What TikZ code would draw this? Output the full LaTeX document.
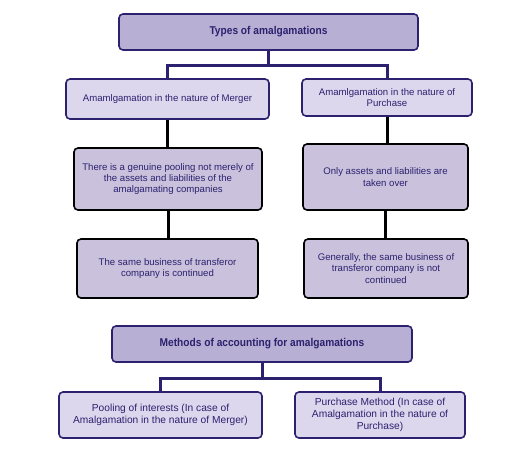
\documentclass[tikz,border=0pt]{standalone}
\usepackage{fontspec}
\setmainfont{Liberation Sans}
\newfontfamily\headfont[FakeStretch=0.9]{Liberation Sans}
\definecolor{navy}{RGB}{43,33,110}
\definecolor{headfill}{RGB}{184,176,212}
\definecolor{lightfill}{RGB}{221,215,237}
\definecolor{midfill}{RGB}{202,193,220}
\begin{document}
\begin{tikzpicture}[
  box/.style={rounded corners=4pt, line width=1.6pt, align=center, inner sep=2pt, text=navy, font=\fontsize{9.6}{11.2}\selectfont},
  headbox/.style={box, draw=navy, fill=headfill, font=\headfont\bfseries\fontsize{11.3}{13}\selectfont},
  lvltwo/.style={box, draw=navy, fill=lightfill},
  lvlthree/.style={box, draw=black, fill=midfill},
  navyline/.style={draw=navy, line width=3pt},
  blackline/.style={draw=black, line width=3pt}
]
\useasboundingbox (0pt,0pt) rectangle (520pt,-448pt);
\fill[white] (0pt,0pt) rectangle (520pt,-448pt);

\node[headbox, minimum width=299pt, minimum height=36pt] (top) at (268.5pt,-32pt) {Types of amalgamations};
\node[lvltwo, minimum width=203pt, minimum height=40pt] (merger) at (167.5pt,-99pt) {Amamlgamation in the nature of Merger};
\node[lvltwo, minimum width=170pt, minimum height=37pt] (purchase) at (387pt,-97.5pt) {Amamlgamation in the nature of\\Purchase};
\node[lvlthree, minimum width=188pt, minimum height=62pt] (pool) at (168pt,-179pt) {There is a genuine pooling not merely of\\the assets and liabilities of the\\amalgamating companies};
\node[lvlthree, minimum width=165pt, minimum height=66pt] (only) at (385.5pt,-177pt) {Only assets and liabilities are\\taken over};
\node[lvlthree, minimum width=181pt, minimum height=59pt] (same) at (167.5pt,-268.5pt) {The same business of transferor\\company is continued};
\node[lvlthree, minimum width=164pt, minimum height=59pt] (gen) at (386pt,-268.5pt) {Generally, the same business of\\transferor company is not\\continued};

\node[headbox, minimum width=300pt, minimum height=36pt] (methods) at (262pt,-344pt) {Methods of accounting for amalgamations};
\node[lvltwo, minimum width=203pt, minimum height=46pt, font=\fontsize{10.2}{12}\selectfont] (poolint) at (160.5pt,-415pt) {Pooling of interests (In case of\\Amalgamation in the nature of Merger)};
\node[lvltwo, minimum width=170pt, minimum height=46pt, font=\fontsize{10.2}{12}\selectfont] (purchm) at (380pt,-415pt) {Purchase Method (In case of\\Amalgamation in the nature of\\Purchase)};

\draw[navyline] (top.south) -- ++(0pt,-15pt) -| (merger.north);
\draw[navyline] (top.south) -- ++(0pt,-15pt) -| (purchase.north);
\draw[blackline] (merger.south) -- (merger.south |- pool.north);
\draw[blackline] (pool.south) -- (pool.south |- same.north);
\draw[blackline] (purchase.south) -- (purchase.south |- only.north);
\draw[blackline] (only.south) -- (only.south |- gen.north);
\draw[navyline] (methods.south) -- ++(0pt,-16pt) -| (poolint.north);
\draw[navyline] (methods.south) -- ++(0pt,-16pt) -| (purchm.north);
\end{tikzpicture}
\end{document}
